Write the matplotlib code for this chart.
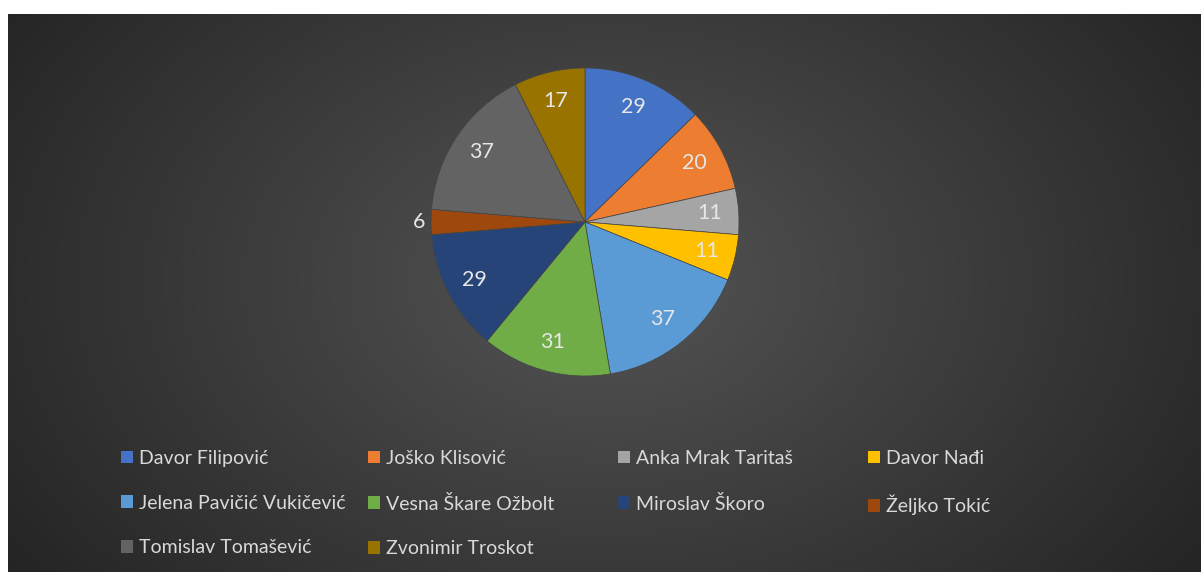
import numpy as np
import matplotlib
matplotlib.use("Agg")
import matplotlib.pyplot as plt
from matplotlib.patches import Patch

# podaci
names = ["Davor Filipović", "Joško Klisović", "Anka Mrak Taritaš", "Davor Nađi",
         "Jelena Pavičić Vukičević", "Vesna Škare Ožbolt", "Miroslav Škoro",
         "Željko Tokić", "Tomislav Tomašević", "Zvonimir Troskot"]
votes = [29, 20, 11, 11, 37, 31, 29, 6, 37, 17]
colors = ["#4472C4", "#ED7D31", "#A5A5A5", "#FFC000", "#5B9BD5",
          "#70AD47", "#264478", "#9E480E", "#636363", "#997300"]

plt.rcParams['font.family'] = ['Lato', 'DejaVu Sans']

W, H = 1201, 572
fig = plt.figure(figsize=(W / 100, H / 100), dpi=100)
fig.patch.set_facecolor("white")

# pozadina - radijalni gradijent
bx = 8
by = 14
bg = fig.add_axes([bx / W, 0, 1 - bx / W, (H - by) / H])
yy, xx = np.mgrid[0:200, 0:400]
cx, cy = 200, 95
d = np.sqrt(((xx - cx) / 200.0) ** 2 + ((yy - cy) / 150.0) ** 2)
d = np.clip(d / 1.2, 0, 1)
lum = 0.33 - (0.33 - 0.145) * d
img = np.dstack([lum, lum, lum])
bg.imshow(img, aspect="auto", interpolation="bilinear", extent=[0, 1, 0, 1])
bg.set_axis_off()

# pita
pcx, pcy, r = 585, 222, 154
ax = fig.add_axes([(pcx - r) / W, (H - pcy - r) / H, 2 * r / W, 2 * r / H])
wedges, _ = ax.pie(votes, colors=colors, startangle=90, counterclock=False,
                   radius=1.0, wedgeprops=dict(linewidth=0.5, edgecolor="#444444"))
ax.set_xlim(-1, 1)
ax.set_ylim(-1, 1)
ax.set_aspect("equal")
ax.set_axis_off()

for w, v in zip(wedges, votes):
    ang = np.deg2rad((w.theta1 + w.theta2) / 2)
    dist = 1.08 if v < 10 else 0.81
    ax.text(dist * np.cos(ang), dist * np.sin(ang), str(v), ha="center", va="center",
            fontsize=15.5, color="#e6e6e6", clip_on=False)

# legenda - 4 stupca
col_x = [121, 368, 618, 868]
handles = [Patch(facecolor=c, edgecolor="none") for c in colors]
for ci in range(4):
    idx = list(range(ci, len(names), 4))
    leg = fig.legend([handles[i] for i in idx], [names[i] for i in idx],
                     loc="upper left", bbox_to_anchor=(col_x[ci] / W, 1 - 450 / H),
                     frameon=False, fontsize=14, labelcolor="#d9d9d9",
                     handlelength=0.62, handleheight=0.62, handletextpad=0.3,
                     labelspacing=1.42, borderpad=0, borderaxespad=0)

fig.savefig("out.png", dpi=100)
